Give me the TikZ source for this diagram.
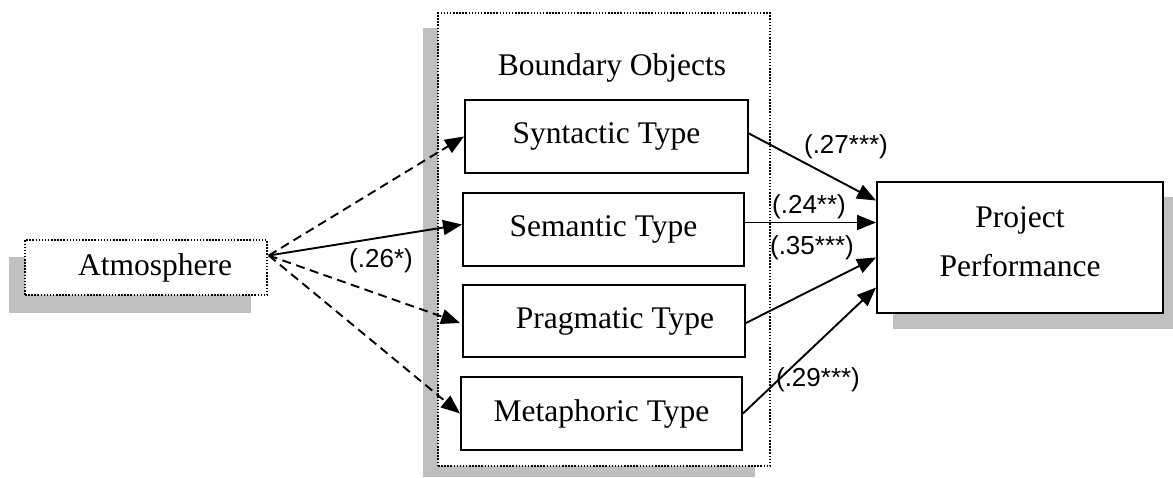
\documentclass[tikz,border=0pt]{standalone}
\usepackage{fontspec}
\setmainfont{Liberation Serif}
\newfontfamily\arialf{Liberation Sans}
\usetikzlibrary{arrows.meta,calc}
\begin{document}
\begin{tikzpicture}[x=1pt,y=-1pt,
  shadowfill/.style={fill=black!25},
  solidbox/.style={draw,line width=1.9pt,fill=white,inner sep=0pt,font=\fontsize{31.5}{47}\selectfont},
  dotbox/.style={draw,line width=1.5pt,dash pattern=on 1.5pt off 1.6pt,fill=white,inner sep=0pt},
  conn/.style={line width=1.9pt,-{Triangle[length=19pt,width=15pt]}},
  dconn/.style={conn,dash pattern=on 9pt off 5.5pt},
  coef/.style={font=\arialf\fontsize{26}{30}\selectfont,inner sep=0pt}]
\useasboundingbox (0,0) rectangle (1173,477);
% shadows
\fill[shadowfill] (9,257) rectangle (251,313);
\fill[shadowfill] (423,28) rectangle (755,477);
\fill[shadowfill] (893,197) rectangle (1173,329);
% containers
\node[dotbox,minimum width=242pt,minimum height=55pt,font=\fontsize{31.5}{36}\selectfont] (atm) at (146,267.5) {\hspace{18pt}Atmosphere};
\node[dotbox,minimum width=332pt,minimum height=453pt] (bo) at (604,239.5) {};
\node[font=\fontsize{31.5}{36}\selectfont,inner sep=0pt] (bol) at (612,68) {Boundary Objects};
% type boxes
\node[solidbox,minimum width=283pt,minimum height=73pt] (syn) at (606.5,136.5) {Syntactic Type};
\node[solidbox,minimum width=281pt,minimum height=73pt] (sem) at (603.5,229.5) {Semantic Type};
\node[solidbox,minimum width=282pt,minimum height=72pt] (pra) at (604,321) {\hspace{22pt}Pragmatic Type};
\node[solidbox,minimum width=281pt,minimum height=73pt] (met) at (601.5,413.5) {Metaphoric Type};
\node[solidbox,minimum width=286pt,minimum height=131pt] (pp) at (1020,247.5) {\raisebox{5pt}[\height][\depth]{\begin{tabular}{@{}c@{}}Project\\[2pt]Performance\end{tabular}}};
% connectors
\coordinate (o) at ($(atm.east)+(1,-12)$);
\draw[dconn] (o) -- (syn.west);
\draw[conn] (o) -- ([yshift=5pt]sem.west);
\draw[dconn] (o) -- ([xshift=-2pt,yshift=-2pt]pra.west);
\draw[dconn] (o) -- (met.west);
\draw[conn] ([yshift=3pt]syn.east) -- ([yshift=47pt]pp.west);
\draw[conn] ([yshift=7pt]sem.east) -- ([yshift=25pt]pp.west);
\draw[conn] ([yshift=-2pt]pra.east) -- ([yshift=-10pt]pp.west);
\draw[conn] (met.east) -- ([yshift=-40pt]pp.west);
% coefficients
\node[coef] (c1) at (846,147) {(.27***)};
\node[coef] (c2) at (809,207) {(.24**)};
\node[coef] (c3) at (812,248) {(.35***)};
\node[coef] (c4) at (818,380) {(.29***)};
\node[coef] (c5) at (381,261) {(.26*)};
\end{tikzpicture}
\end{document}
